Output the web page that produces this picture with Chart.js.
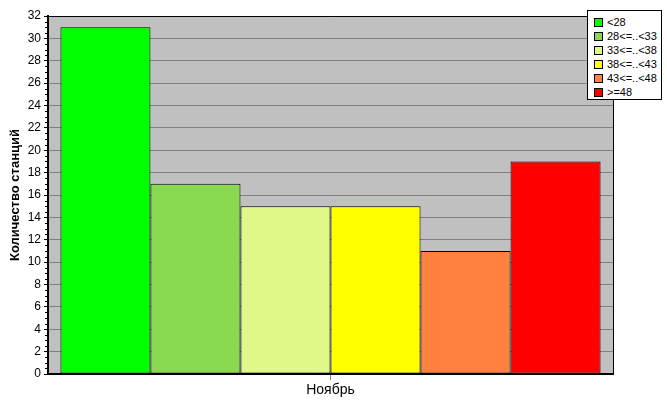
<!DOCTYPE html>
<html>
<head>
<meta charset="utf-8">
<script src="https://cdn.jsdelivr.net/npm/chart.js@4.4.0/dist/chart.umd.min.js"></script>
<style>
  body { margin: 0; background: #fff; }
  #wrap { position: relative; width: 667px; height: 415px; }
  #legend {
    position: absolute; left: 587px; top: 10px; width: 73px; height: 88px;
    border: 1px solid #000; background: #fff;
    font-family: Arial, "Liberation Sans", sans-serif; font-size: 11px;
  }
  #legend div { position: absolute; left: 6px; height: 14px; line-height: 14px; white-space: nowrap; }
  #legend span {
    display: inline-block; width: 7px; height: 7px; border: 1px solid #000;
    margin-right: 4px; vertical-align: -1px;
  }
</style>
</head>
<body>
<div id="wrap">
  <canvas id="chart" width="667" height="415"></canvas>
  <div id="legend"></div>
</div>
<script>
var categories = ["Ноябрь"];
var seriesNames = ["<28", "28<=..<33", "33<=..<38", "38<=..<43", "43<=..<48", ">=48"];
var seriesValues = [31, 17, 15, 15, 11, 19];
var seriesColors = ["#00FF00", "#88D850", "#E0F888", "#FFFF00", "#FF8040", "#FF0000"];

var legendBox = document.getElementById("legend");
for (var i = 0; i < seriesNames.length; i++) {
  var row = document.createElement("div");
  row.style.top = (4 + i * 14) + "px";
  var sw = document.createElement("span");
  sw.style.background = seriesColors[i];
  row.appendChild(sw);
  row.appendChild(document.createTextNode(seriesNames[i]));
  legendBox.appendChild(row);
}

var datasets = [];
for (var i = 0; i < seriesNames.length; i++) {
  datasets.push({
    label: seriesNames[i],
    data: [seriesValues[i]],
    backgroundColor: seriesColors[i],
    borderColor: "#000",
    borderWidth: 1,
    borderSkipped: false,
    barPercentage: 1,
    categoryPercentage: 0.956,
  });
}

var plotBg = {
  id: "plotBg",
  beforeDraw: function (chart) {
    var a = chart.chartArea, c = chart.ctx;
    c.save();
    c.fillStyle = "#C0C0C0";
    c.fillRect(a.left, a.top, a.right - a.left, a.bottom - a.top);
    c.restore();
  },
  afterDraw: function (chart) {
    var a = chart.chartArea, c = chart.ctx;
    var y = chart.scales.y;
    c.save();
    c.strokeStyle = "#000";
    c.lineWidth = 1;
    c.beginPath();
    c.moveTo(a.left, a.top + 0.5);
    c.lineTo(a.right + 0.5, a.top + 0.5);
    c.lineTo(a.right + 0.5, a.bottom);
    c.stroke();
    // minor ticks on the value axis
    c.fillStyle = "#000";
    for (var v = 0.5; v < 32; v += 0.5) {
      if (v % 2 === 0) continue;
      var py = Math.round(y.getPixelForValue(v));
      c.fillRect(a.left - 3, py, 2, 1);
    }
    c.restore();
  },
};

new Chart(document.getElementById("chart").getContext("2d"), {
  type: "bar",
  data: {
    labels: categories,
    datasets: datasets,
  },
  plugins: [plotBg],
  options: {
    responsive: false,
    animation: false,
    layout: {
      padding: { left: 0, top: 16, right: 54, bottom: 0 },
    },
    plugins: {
      legend: { display: false },
      tooltip: { enabled: false },
    },
    scales: {
      x: {
        afterFit: function (scale) { scale.height = 41; },
        grid: {
          display: true,
          drawOnChartArea: false,
          drawTicks: true,
          tickLength: 6,
          tickColor: "#808080",
          offset: false,
        },
        border: { color: "#000", width: 2 },
        ticks: {
          color: "#000",
          padding: 2,
          font: { family: "Arial, 'Liberation Sans'", size: 14 },
        },
      },
      y: {
        min: 0,
        max: 32,
        afterFit: function (scale) { scale.width = 48; },
        grid: {
          color: "#808080",
          drawTicks: true,
          tickLength: 4,
          tickColor: "#000",
        },
        border: { color: "#000", width: 2 },
        ticks: {
          stepSize: 2,
          color: "#000",
          padding: 3,
          font: { family: "Arial, 'Liberation Sans'", size: 12 },
        },
        title: {
          display: true,
          text: "Количество станций",
          color: "#000",
          padding: { top: 8, bottom: 2 },
          font: { family: "Arial, 'Liberation Sans'", size: 13, weight: "bold" },
        },
      },
    },
  },
});
</script>
</body>
</html>
